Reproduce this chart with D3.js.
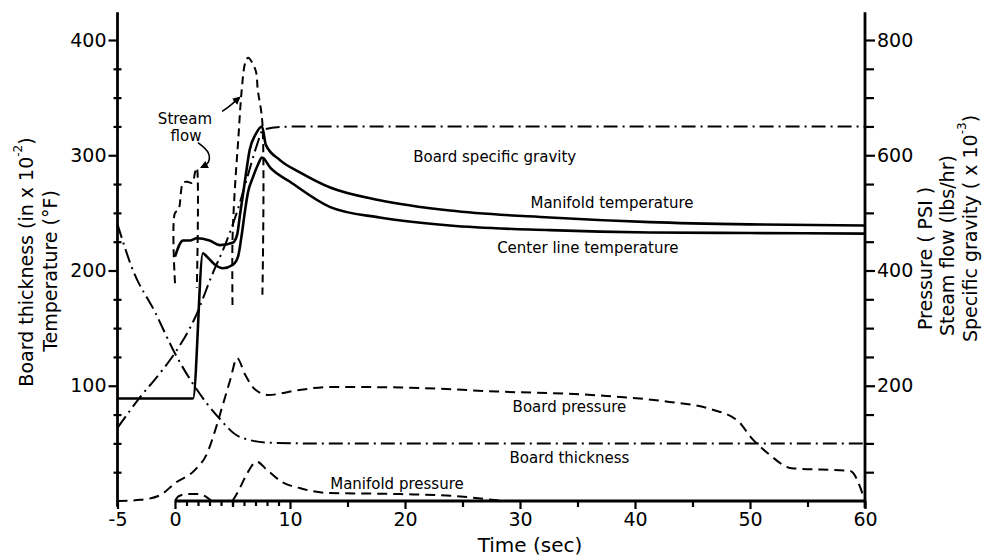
<!DOCTYPE html>
<html>
<head>
<meta charset="utf-8">
<script src="https://cdn.jsdelivr.net/npm/d3@7"></script>
<style>
  body { margin: 0; background: #fff; }
  svg { font-family: "DejaVu Sans", sans-serif; }
</style>
</head>
<body>
<svg id="chart" width="985" height="557"></svg>
<script>
// ---- data ----
// left axis units: temperature (F) / board thickness (in x 10^-2)
let mfTempT = [0, 0.7, 1.3, 1.9, 3, 3.9, 5, 5.4, 5.65, 6.1, 6.5, 7, 7.57, 7.9, 9.1, 10.9, 13.5, 17.8, 23.9, 32.6, 41.3, 50, 60]
let mfTempV = [212, 226, 226, 228, 226, 222, 224, 231, 248, 279, 305, 318, 325, 309, 296, 285, 272, 261, 252, 246, 242, 240, 239]

let clTempT = [-5, 1.57, 2.43, 2.78, 3.48, 4.17, 5.04, 5.48, 5.83, 6.09, 6.35, 6.78, 7.22, 7.57, 8.3, 10, 13.5, 17.8, 23.9, 32.6, 41.3, 50, 60]
let clTempV = [89, 89, 215, 212, 205, 202, 205, 212, 233, 252, 268, 281, 292, 298, 289, 277, 255, 246, 239, 235, 233, 232.5, 232]

let thickT = [-5, -3.65, -1.74, 0, 1.74, 3.74, 5.65, 8.26, 10.9, 20, 60]
let thickV = [240, 200, 164, 128, 99, 73, 55.5, 50.5, 50, 50, 50]

// right axis units: pressure (psi) / steam flow (lbs/hr) / specific gravity (x 10^-3)
let gravT = [-5, -3, -1.3, 0, 1.74, 3.3, 4.35, 5.4, 6.35, 7.13, 7.65, 9.1, 11, 60]
let gravV = [127, 181, 222, 257, 318, 396, 444, 502, 566, 618, 644, 649, 650, 650]

let boardPresT = [-5, -3, -1.3, 0, 1.74, 2.8, 3.5, 4.1, 4.8, 5.4, 6.1, 7, 8.1, 10.6, 13.5, 19.6, 28, 37, 43, 46.5, 49, 50.1, 51.6, 53.6, 58.7, 60]
let boardPresV = [0, 2, 10, 31, 54, 83, 123, 163, 210, 248, 219, 193, 184, 192, 198, 197, 190, 183, 172, 160, 138, 110, 82, 57, 52, 0]

let manPresT = [0, 0.3, 1, 2, 2.8, 3.2, 4, 5, 5.5, 6.2, 7.1, 8, 9.3, 10.9, 13.3, 19.6, 24, 27, 28.5]
let manPresV = [0, 8, 12, 12, 6, 0, null, 0, 17, 45, 68, 54, 33, 22, 14, 12, 9, 3.5, 0]

let steamT = [0, 0, 0.3, 0.7, 1.05, 1.5, 1.75, 1.9, 1.9, 3.5, 5, 5, 5.2, 5.5, 5.8, 6.1, 6.35, 7, 7.2, 7.6, 7.6]
let steamV = [378, 500, 505, 552, 554, 552, 571, 578, 370, null, 340, 453, 540, 627, 713, 760, 769, 748, 713, 656, 358]

let leftTicks = [100, 200, 300, 400]
let rightTicks = [200, 400, 600, 800]
let timeTicks = [-5, 0, 10, 20, 30, 40, 50, 60]

// ---- setup ----
let svg = d3.select('#chart')

let x = d3.scaleLinear().domain([-5, 60]).range([117.5, 865])
let yL = d3.scaleLinear().domain([0, 400]).range([501, 40])
let yR = d3.scaleLinear().domain([0, 800]).range([501, 40])

let zip = (ts, vs) => ts.map((t, i) => ({ t: t, v: vs[i] }))

let lineL = (curve) => d3.line().defined(d => d.v !== null).x(d => x(d.t)).y(d => yL(d.v)).curve(curve)
let lineR = (curve) => d3.line().defined(d => d.v !== null).x(d => x(d.t)).y(d => yR(d.v)).curve(curve)

let dash = '10,6'
let dashDot = '14,5,2,5'

let drawCurve = (gen, data, width, dasharray) => {
    svg.append('path')
        .attr('d', gen(data))
        .attr('fill', 'none')
        .attr('stroke', '#000')
        .attr('stroke-width', width)
        .attr('stroke-linejoin', 'round')
        .attr('stroke-dasharray', dasharray)
}

// ---- axes ----
let styleAxis = (g) => {
    g.select('.domain').remove()
    g.selectAll('line').attr('stroke', '#000').attr('stroke-width', 2.2)
    g.selectAll('text').attr('font-size', 19).attr('fill', '#000')
        .attr('font-family', '"DejaVu Sans", sans-serif')
}

// left
svg.append('g')
    .attr('transform', 'translate(' + x(-5) + ',0)')
    .call(d3.axisLeft(yL).tickValues(leftTicks).tickSize(9).tickPadding(2).tickFormat(d => d))
    .call(styleAxis)
svg.append('g')
    .attr('transform', 'translate(' + (x(-5) + 4) + ',0)')
    .call(d3.axisLeft(yL).tickValues(d3.range(25, 400, 25).filter(d => d % 100 !== 0)).tickSize(8).tickFormat(''))
    .call(styleAxis)
svg.append('line')
    .attr('x1', x(-5)).attr('x2', x(-5))
    .attr('y1', yL(424)).attr('y2', yL(-5))
    .attr('stroke', '#000').attr('stroke-width', 2.8)

// right
svg.append('g')
    .attr('transform', 'translate(' + x(60) + ',0)')
    .call(d3.axisRight(yR).tickValues(rightTicks).tickSize(10).tickPadding(2).tickFormat(d => d))
    .call(styleAxis)
svg.append('g')
    .attr('transform', 'translate(' + x(60) + ',0)')
    .call(d3.axisRight(yR).tickValues(d3.range(50, 850, 50).filter(d => d % 200 !== 0)).tickSize(9).tickFormat(''))
    .call(styleAxis)
svg.append('line')
    .attr('x1', x(60)).attr('x2', x(60))
    .attr('y1', yR(848)).attr('y2', yR(-12))
    .attr('stroke', '#000').attr('stroke-width', 2.8)

// bottom
svg.append('g')
    .attr('transform', 'translate(0,' + yL(0) + ')')
    .call(d3.axisBottom(x).tickValues(timeTicks).tickSize(8).tickPadding(4).tickFormat(d => d))
    .call(styleAxis)
svg.append('g')
    .attr('transform', 'translate(0,' + yL(0) + ')')
    .call(d3.axisBottom(x).tickValues([5, 15, 25, 35, 45, 55]).tickSize(6).tickFormat(''))
    .call(styleAxis)
svg.append('g')
    .attr('transform', 'translate(0,' + yL(0) + ')')
    .call(d3.axisBottom(x).tickValues(d3.range(1, 10)).tickSize(5).tickFormat(''))
    .call(styleAxis)
svg.append('line')
    .attr('x1', x(0)).attr('x2', x(60))
    .attr('y1', yL(0)).attr('y2', yL(0))
    .attr('stroke', '#000').attr('stroke-width', 2.8)

// ---- curves ----
drawCurve(lineL(d3.curveMonotoneX), zip(mfTempT, mfTempV), 2.6, null)
drawCurve(lineL(d3.curveMonotoneX), zip(clTempT, clTempV), 2.6, null)
drawCurve(lineL(d3.curveMonotoneX), zip(thickT, thickV), 2, dashDot)
drawCurve(lineR(d3.curveMonotoneX), zip(gravT, gravV), 2, dashDot)
drawCurve(lineR(d3.curveMonotoneX), zip(boardPresT, boardPresV), 2, dash)
drawCurve(lineR(d3.curveMonotoneX), zip(manPresT, manPresV), 2, dash)
drawCurve(lineR(d3.curveCatmullRom.alpha(0.5)), zip(steamT, steamV), 2, '8,5')

// ---- labels ----
let label = (txt, t, v, anchor) => {
    svg.append('text')
        .attr('x', x(t)).attr('y', yL(v))
        .attr('text-anchor', anchor || 'middle')
        .attr('font-size', 15)
        .text(txt)
}
label('Board specific gravity', 27.8, 294)
label('Manifold temperature', 38, 254)
label('Center line temperature', 35.9, 215)
label('Board pressure', 34.3, 77.5)
label('Board thickness', 34.3, 33)
label('Manifold pressure', 19.3, 10.4)
label('Stream', 0.87, 327)
label('flow', 0.96, 312)

// leaders for "Stream flow"
svg.append('defs').append('marker')
    .attr('id', 'arr').attr('viewBox', '0 0 10 10').attr('refX', 8).attr('refY', 5)
    .attr('markerWidth', 5).attr('markerHeight', 5).attr('orient', 'auto')
    .append('path').attr('d', 'M0,0L10,5L0,10Z').attr('fill', '#000')

let leader = d3.line().x(d => x(d.t)).y(d => yR(d.v)).curve(d3.curveCatmullRom.alpha(0.5))
svg.append('path')
    .attr('d', leader(zip([4.1, 4.9, 5.6], [676, 688, 700])))
    .attr('fill', 'none').attr('stroke', '#000').attr('stroke-width', 1.6)
    .attr('marker-end', 'url(#arr)')
svg.append('path')
    .attr('d', leader(zip([2.0, 2.9, 2.9, 2.3], [622, 604, 588, 579])))
    .attr('fill', 'none').attr('stroke', '#000').attr('stroke-width', 1.6)
    .attr('marker-end', 'url(#arr)')

// axis titles
let leftTitle = svg.append('text')
    .attr('transform', 'translate(26,262) rotate(-90)')
    .attr('text-anchor', 'middle').attr('dominant-baseline', 'central')
    .attr('font-size', 19)
leftTitle.append('tspan').text('Board thickness (in x 10')
leftTitle.append('tspan').attr('font-size', 12).attr('dy', -8).text('-2')
leftTitle.append('tspan').attr('dy', 8).text(')')

svg.append('text')
    .attr('transform', 'translate(50,271) rotate(-90)')
    .attr('text-anchor', 'middle').attr('dominant-baseline', 'central')
    .attr('font-size', 19)
    .text('Temperature (°F)')

svg.append('text')
    .attr('transform', 'translate(925,330) rotate(-90)')
    .attr('text-anchor', 'start').attr('dominant-baseline', 'central')
    .attr('font-size', 19)
    .text('Pressure ( PSI )')
svg.append('text')
    .attr('transform', 'translate(947,336) rotate(-90)')
    .attr('text-anchor', 'start').attr('dominant-baseline', 'central')
    .attr('font-size', 19)
    .text('Steam flow (lbs/hr)')
let rightTitle = svg.append('text')
    .attr('transform', 'translate(970,342) rotate(-90)')
    .attr('text-anchor', 'start').attr('dominant-baseline', 'central')
    .attr('font-size', 19)
rightTitle.append('tspan').text('Specific gravity ( x 10')
rightTitle.append('tspan').attr('font-size', 12).attr('dy', -8).text('-3')
rightTitle.append('tspan').attr('dy', 8).text(')')

svg.append('text')
    .attr('x', 530).attr('y', 552)
    .attr('text-anchor', 'middle')
    .attr('font-size', 20)
    .text('Time (sec)')
</script>
</body>
</html>
